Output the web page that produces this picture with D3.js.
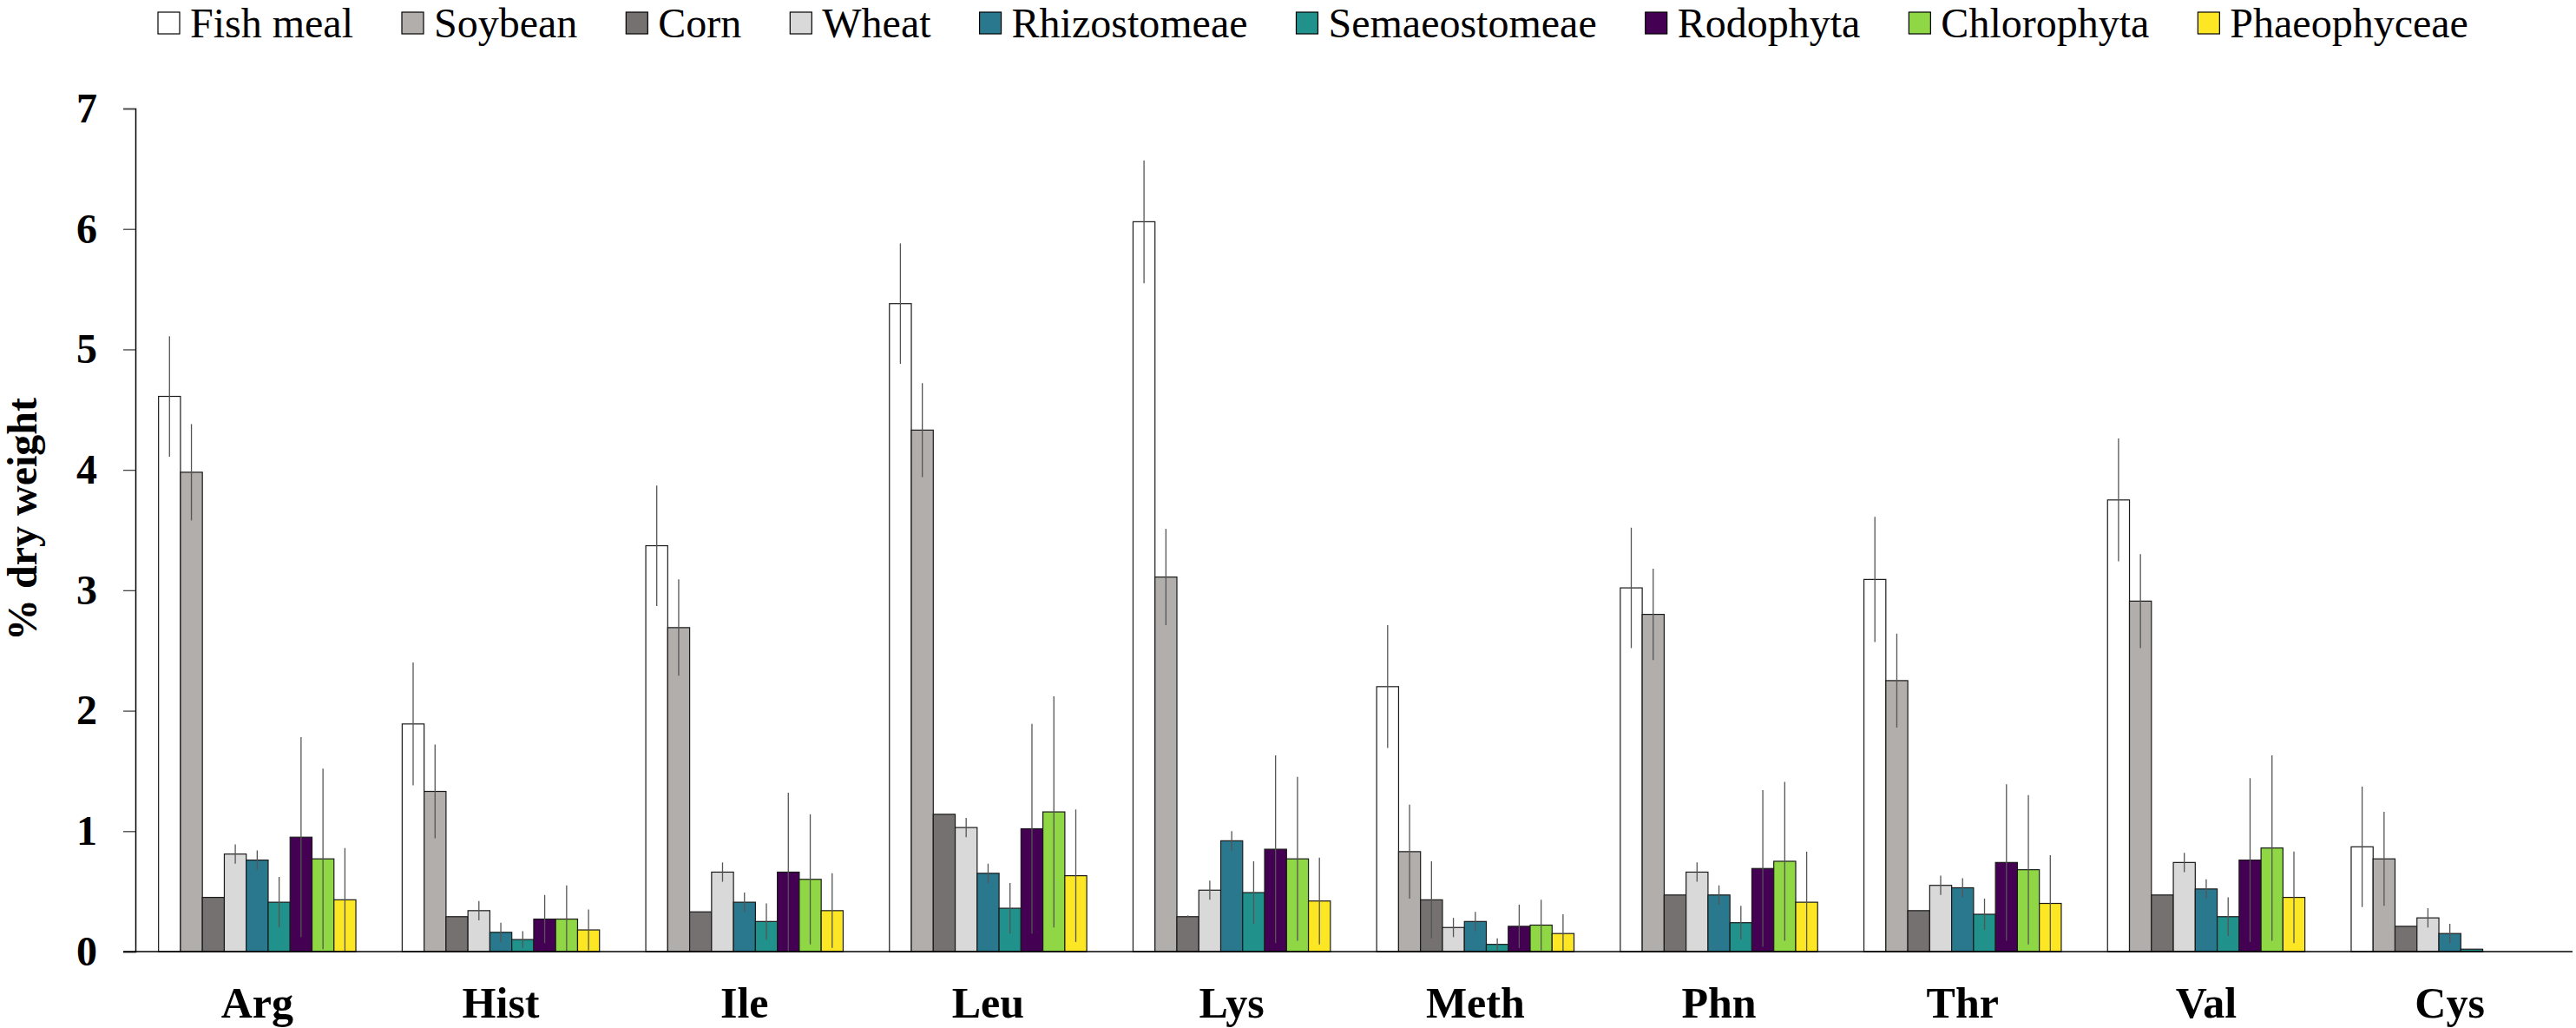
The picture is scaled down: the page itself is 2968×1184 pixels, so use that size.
<!DOCTYPE html>
<html>
<head>
<meta charset="utf-8">
<script src="https://cdn.jsdelivr.net/npm/d3@7"></script>
<style>
  body { margin: 0; background: #fff; }
  svg { display: block; font-family: 'Liberation Serif', 'Times New Roman', serif; }
</style>
</head>
<body>
<div id="chart"></div>
<script>
// categories and series
const categories = ['Arg', 'Hist', 'Ile', 'Leu', 'Lys', 'Meth', 'Phn', 'Thr', 'Val', 'Cys'];
const seriesNames = ['Fish meal', 'Soybean', 'Corn', 'Wheat', 'Rhizostomeae', 'Semaeostomeae', 'Rodophyta', 'Chlorophyta', 'Phaeophyceae'];
const seriesColors = ['#ffffff', '#b1aeac', '#767171', '#d9d9d9', '#2a788e', '#21918c', '#440154', '#8fd744', '#fde725'];
const yTicks = [0, 1, 2, 3, 4, 5, 6, 7];

// means (% dry weight) per series, in category order
const fishMeal = [4.61, 1.89, 3.37, 5.38, 6.06, 2.20, 3.02, 3.09, 3.75, 0.87];
const soybean  = [3.98, 1.33, 2.69, 4.33, 3.11, 0.83, 2.80, 2.25, 2.91, 0.77];
const corn     = [0.45, 0.29, 0.33, 1.14, 0.29, 0.43, 0.47, 0.34, 0.47, 0.21];
const wheat    = [0.81, 0.34, 0.66, 1.03, 0.51, 0.20, 0.66, 0.55, 0.74, 0.28];
const rhizo    = [0.76, 0.16, 0.41, 0.65, 0.92, 0.25, 0.47, 0.53, 0.52, 0.15];
const semaeo   = [0.41, 0.10, 0.25, 0.36, 0.49, 0.06, 0.24, 0.31, 0.29, 0.02];
const rodo     = [0.95, 0.27, 0.66, 1.02, 0.85, 0.21, 0.69, 0.74, 0.76, 0];
const chloro   = [0.77, 0.27, 0.60, 1.16, 0.77, 0.22, 0.75, 0.68, 0.86, 0];
const phaeo    = [0.43, 0.18, 0.34, 0.63, 0.42, 0.15, 0.41, 0.40, 0.45, 0];

// standard deviations
const fishMealSd = [0.50, 0.51, 0.50, 0.50, 0.51, 0.51, 0.50, 0.52, 0.51, 0.50];
const soybeanSd  = [0.40, 0.39, 0.40, 0.39, 0.40, 0.39, 0.38, 0.39, 0.39, 0.39];
const cornSd     = [0, 0, 0, 0, 0.01, 0.32, 0, 0, 0, 0];
const wheatSd    = [0.08, 0.08, 0.08, 0.08, 0.08, 0.08, 0.08, 0.08, 0.08, 0.08];
const rhizoSd    = [0.08, 0.08, 0.08, 0.08, 0.08, 0.08, 0.08, 0.08, 0.08, 0.08];
const semaeoSd   = [0.21, 0.07, 0.15, 0.21, 0.26, 0.05, 0.14, 0.13, 0.16, 0];
const rodoSd     = [0.83, 0.20, 0.66, 0.87, 0.78, 0.18, 0.65, 0.65, 0.68, 0];
const chloroSd   = [0.75, 0.28, 0.54, 0.96, 0.68, 0.21, 0.66, 0.62, 0.77, 0];
const phaeoSd    = [0.43, 0.17, 0.31, 0.55, 0.36, 0.16, 0.42, 0.40, 0.38, 0];

const means = [fishMeal, soybean, corn, wheat, rhizo, semaeo, rodo, chloro, phaeo];
const sds = [fishMealSd, soybeanSd, cornSd, wheatSd, rhizoSd, semaeoSd, rodoSd, chloroSd, phaeoSd];

// flatten to one row per bar
const rows = [];
categories.forEach((c, i) => {
    seriesNames.forEach((s, j) => {
        rows.push({ cat: c, series: s, value: means[j][i], sd: sds[j][i], color: seriesColors[j] });
    });
});

const width = 2968, height = 1184;
const plotLeft = 156, plotRight = 2963, plotTop = 125, plotBottom = 1096;
const serif = "'Liberation Serif', 'Times New Roman', serif";

const svg = d3.select('#chart')
    .append('svg')
    .attr('width', width)
    .attr('height', height);

const x = d3.scaleBand()
    .domain(categories)
    .range([plotLeft, plotRight])
    .paddingInner(0.19)
    .paddingOuter(0.095);

const xs = d3.scaleBand()
    .domain(seriesNames)
    .range([0, x.bandwidth()]);

const y = d3.scaleLinear()
    .domain([0, 7])
    .range([plotBottom, plotTop]);

// y axis
const yAxis = svg.append('g')
    .attr('transform', `translate(${plotLeft},0)`)
    .call(d3.axisLeft(y).tickValues(yTicks).tickSize(14).tickPadding(30).tickFormat(d3.format('d')));
yAxis.select('.domain').attr('stroke', '#000').attr('stroke-width', 1.5);
yAxis.selectAll('.tick line').attr('stroke', '#444').attr('stroke-width', 1.3);
yAxis.selectAll('.tick text')
    .attr('font-family', serif)
    .attr('font-size', 48)
    .attr('font-weight', 'bold')
    .attr('fill', '#000');

// bars
svg.append('g')
    .selectAll('rect')
    .data(rows)
    .join('rect')
    .attr('x', d => x(d.cat) + xs(d.series))
    .attr('y', d => y(d.value))
    .attr('width', xs.bandwidth())
    .attr('height', d => y(0) - y(d.value))
    .attr('fill', d => d.color)
    .attr('stroke', '#1a1a1a')
    .attr('stroke-width', 1.2);

// error bars
svg.append('g')
    .selectAll('line')
    .data(rows.filter(d => d.sd > 0))
    .join('line')
    .attr('x1', d => x(d.cat) + xs(d.series) + xs.bandwidth() / 2)
    .attr('x2', d => x(d.cat) + xs(d.series) + xs.bandwidth() / 2)
    .attr('y1', d => y(d.value + d.sd))
    .attr('y2', d => y(Math.max(0, d.value - d.sd)))
    .attr('stroke', '#555')
    .attr('stroke-width', 1.3);

// x axis line
svg.append('line')
    .attr('x1', plotLeft - 14)
    .attr('x2', plotRight + 1)
    .attr('y1', y(0))
    .attr('y2', y(0))
    .attr('stroke', '#000')
    .attr('stroke-width', 1.5);

// category labels
svg.append('g')
    .selectAll('text')
    .data(categories)
    .join('text')
    .attr('x', d => x(d) + x.bandwidth() / 2)
    .attr('y', 1172)
    .attr('text-anchor', 'middle')
    .attr('font-family', serif)
    .attr('font-size', 50)
    .attr('font-weight', 'bold')
    .text(d => d);

// y title
svg.append('text')
    .attr('transform', 'translate(42,598) rotate(-90)')
    .attr('text-anchor', 'middle')
    .attr('font-family', serif)
    .attr('font-size', 48)
    .attr('font-weight', 'bold')
    .text('% dry weight');

// legend
const legend = svg.append('g');
let lx = 182;
seriesNames.forEach((s, j) => {
    legend.append('rect')
        .attr('x', lx)
        .attr('y', 14)
        .attr('width', 25)
        .attr('height', 25)
        .attr('fill', seriesColors[j])
        .attr('stroke', '#000')
        .attr('stroke-width', 1.2);
    const t = legend.append('text')
        .attr('x', lx + 37)
        .attr('y', 43)
        .attr('font-family', serif)
        .attr('font-size', 48)
        .text(s);
    lx += 37 + t.node().getComputedTextLength() + 56;
});
</script>
</body>
</html>
